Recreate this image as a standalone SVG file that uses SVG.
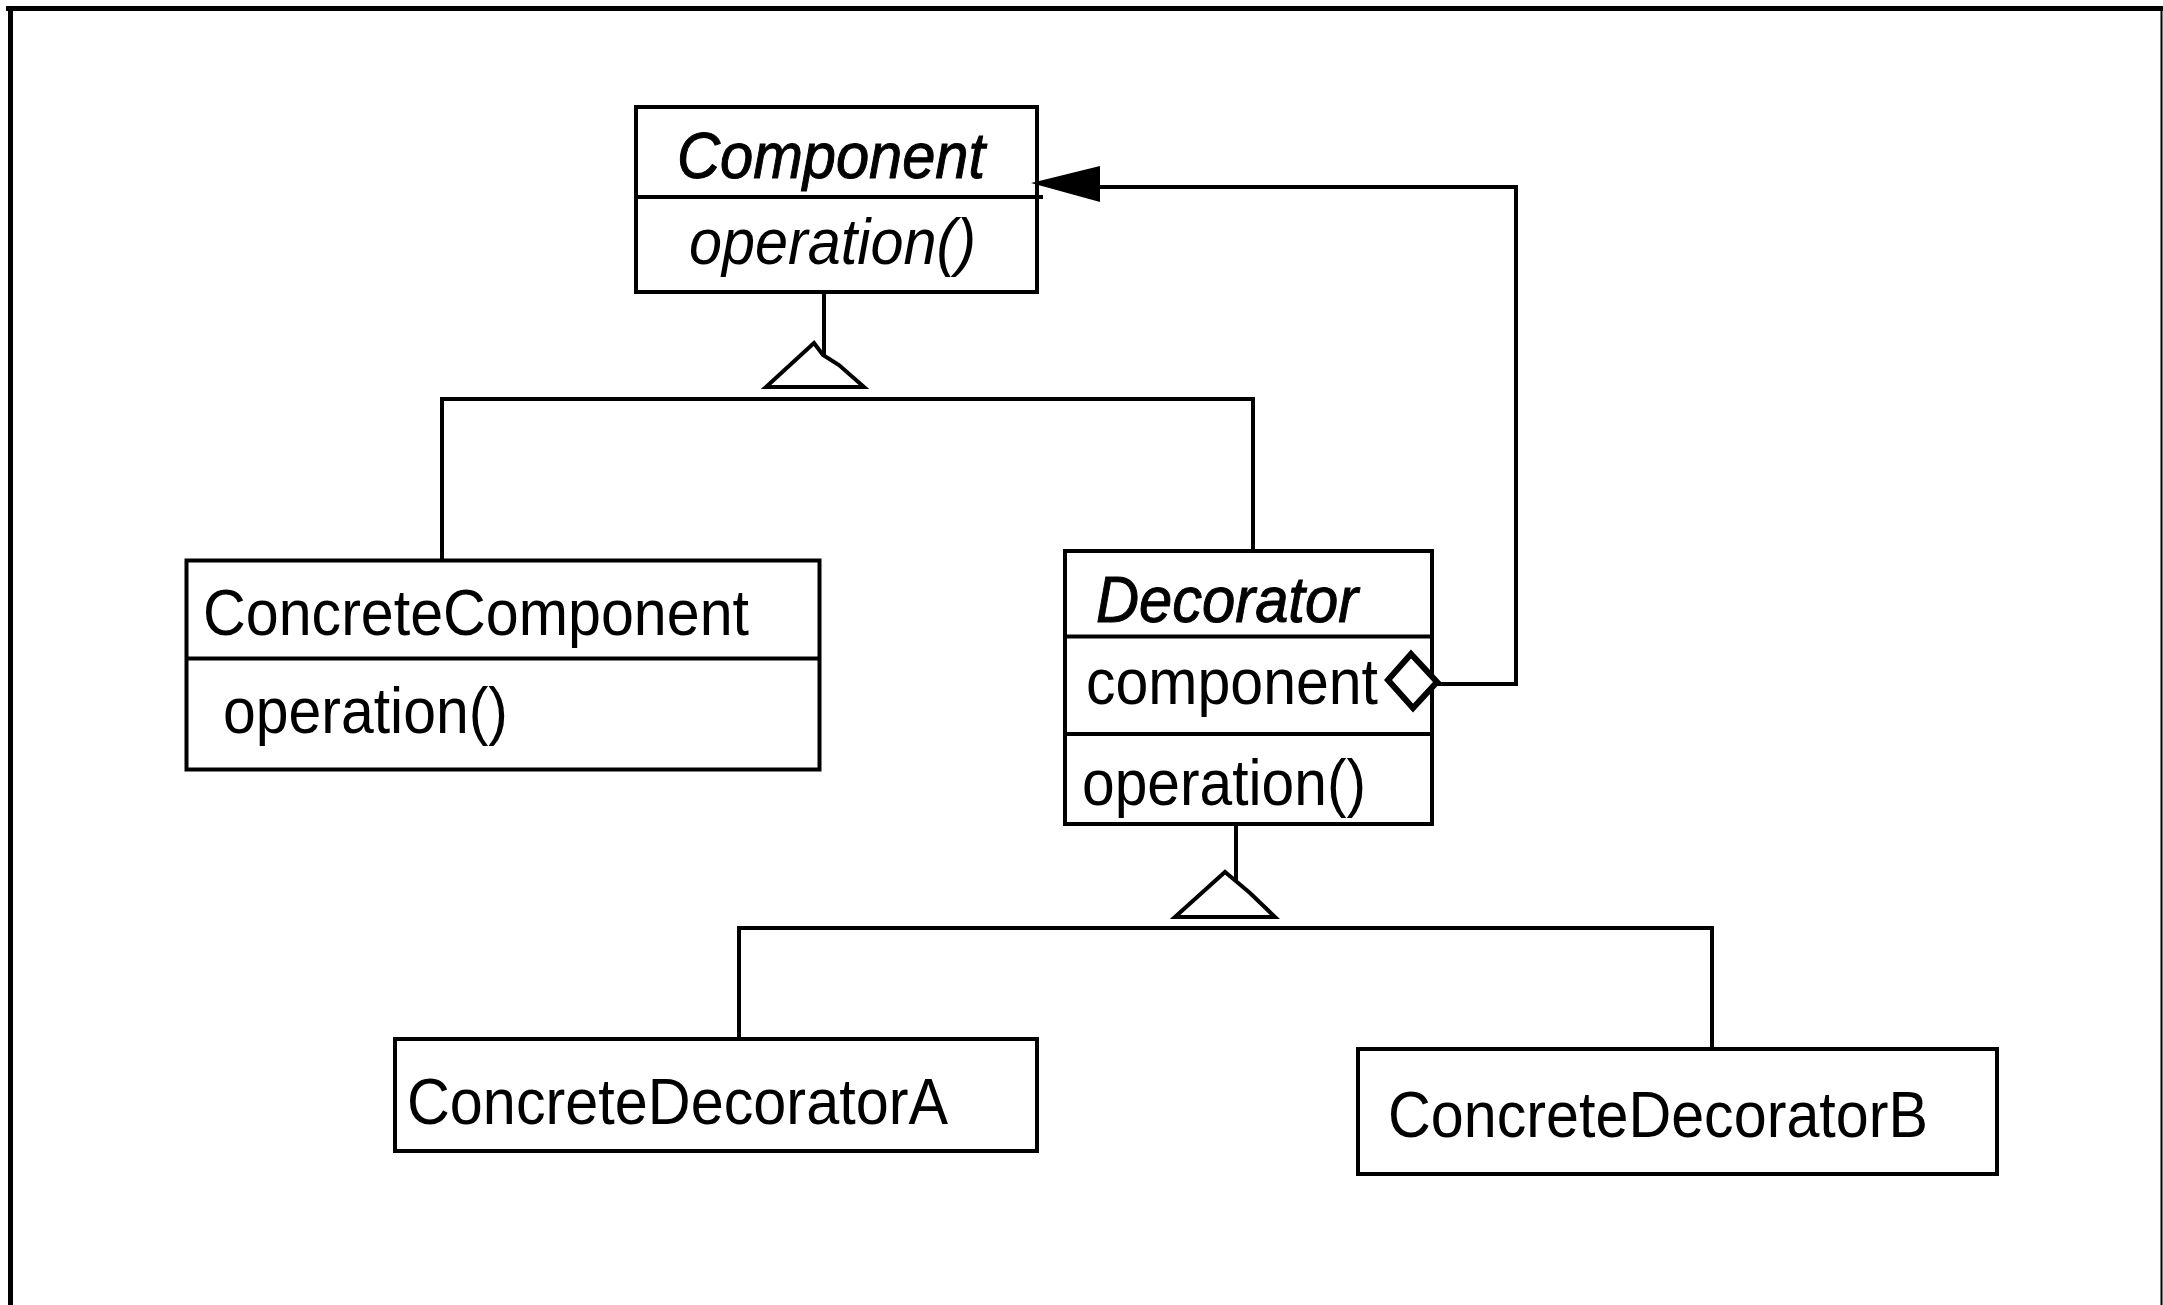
<svg xmlns="http://www.w3.org/2000/svg" width="2163" height="1305" viewBox="0 0 2163 1305">
<style>
  .box { fill: #fff; stroke: #000; stroke-width: 4; }
  .div { stroke: #000; stroke-width: 4; fill: none; }
  .ln { stroke: #000; stroke-width: 4; fill: none; }
  .txt { font-family: "Liberation Sans", Arial, Helvetica, sans-serif; font-size: 65px; fill: #000; }
  .it { font-style: italic; }
  .cls { stroke: #000; stroke-width: 1; }
  .tri { fill: #fff; stroke: #000; stroke-width: 4; stroke-linejoin: miter; }
</style>
<rect x="0" y="0" width="2163" height="1305" fill="#fff"/>
<g id="frame">
  <line x1="6" y1="8.5" x2="2163" y2="8.5" stroke="#000" stroke-width="5"/>
  <line x1="10.5" y1="6" x2="10.5" y2="1305" stroke="#000" stroke-width="5"/>
  <line x1="2161.5" y1="8" x2="2161.5" y2="1305" stroke="#000" stroke-width="2"/>
</g>
<g id="Component">
  <rect class="box" x="636" y="107" width="401" height="185"/>
  <line class="div" x1="636" y1="197" x2="1043" y2="197"/>
  <text class="txt it cls" x="677" y="178" textLength="308" lengthAdjust="spacingAndGlyphs">Component</text>
  <text class="txt it" x="689" y="264" textLength="287" lengthAdjust="spacingAndGlyphs">operation()</text>
</g>
<g id="ConcreteComponent">
  <rect class="box" x="186.5" y="560.5" width="633" height="209"/>
  <line class="div" x1="186.5" y1="658.5" x2="819.5" y2="658.5"/>
  <text class="txt" x="203" y="635" textLength="546" lengthAdjust="spacingAndGlyphs">ConcreteComponent</text>
  <text class="txt" x="223" y="733" textLength="285" lengthAdjust="spacingAndGlyphs">operation()</text>
</g>
<g id="Decorator">
  <rect class="box" x="1065" y="551" width="367" height="273"/>
  <line class="div" x1="1065" y1="636.5" x2="1432" y2="636.5"/>
  <line class="div" x1="1065" y1="734" x2="1432" y2="734"/>
  <text class="txt it cls" x="1096" y="622" textLength="262" lengthAdjust="spacingAndGlyphs">Decorator</text>
  <text class="txt" x="1086" y="704" textLength="292" lengthAdjust="spacingAndGlyphs">component</text>
  <text class="txt" x="1082" y="805" textLength="284" lengthAdjust="spacingAndGlyphs">operation()</text>
</g>
<g id="ConcreteDecoratorA">
  <rect class="box" x="395" y="1039" width="642" height="112"/>
  <text class="txt" x="407" y="1124" textLength="541" lengthAdjust="spacingAndGlyphs">ConcreteDecoratorA</text>
</g>
<g id="ConcreteDecoratorB">
  <rect class="box" x="1358" y="1049" width="639" height="125"/>
  <text class="txt" x="1388" y="1137" textLength="540" lengthAdjust="spacingAndGlyphs">ConcreteDecoratorB</text>
</g>
<g id="connectors">
  <line class="ln" x1="824" y1="292" x2="824" y2="356"/>
  <polygon class="tri" points="766,387 864,387 839,365 823,355 814,343"/>
  <polyline class="ln" points="442,561 442,399 1253,399 1253,551"/>
  <line class="ln" x1="1236" y1="824" x2="1236" y2="883"/>
  <polygon class="tri" points="1175,917 1275,917 1250,893 1237,882 1225,872"/>
  <polyline class="ln" points="739,1039 739,928 1712,928 1712,1049"/>
  <polyline class="ln" points="1437,684 1516,684 1516,187 1100,187"/>
  <polygon points="1031,183 1100,166 1100,202" fill="#000"/>
  <polygon points="1388,680 1411,654 1437,682 1413,708" fill="#fff" stroke="#000" stroke-width="6"/>
</g>
</svg>
